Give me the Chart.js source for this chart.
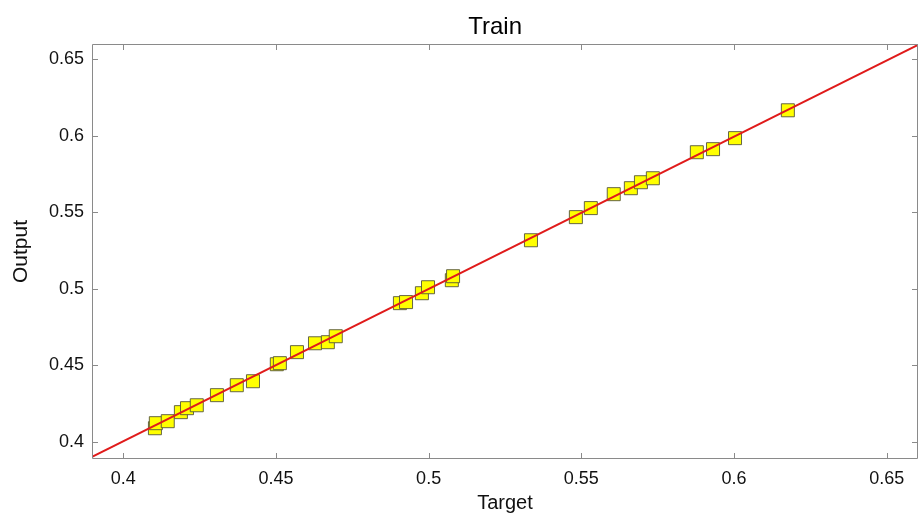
<!DOCTYPE html>
<html>
<head>
<meta charset="utf-8">
<script src="https://cdn.jsdelivr.net/npm/chart.js@4.4.1/dist/chart.umd.min.js"></script>
<style>
html,body{margin:0;padding:0;background:#fff;}
#wrap{width:921px;height:515px;}
</style>
</head>
<body>
<div id="wrap"><canvas id="c" width="921" height="515"></canvas></div>
<script>
// ---- data ----
const targetValues = [0.4104,0.4107,0.4146,0.4189,0.4209,0.4241,0.4307,0.4372,0.4425,0.4503,0.4513,0.4569,0.4628,0.4670,0.4696,0.4906,0.4926,0.4978,0.4998,0.5076,0.5080,0.5335,0.5482,0.5531,0.5606,0.5662,0.5695,0.5734,0.5878,0.5931,0.6003,0.6176];
const outputValues = [0.4090,0.4123,0.4136,0.4195,0.4221,0.4240,0.4306,0.4371,0.4397,0.4508,0.4515,0.4587,0.4645,0.4652,0.4691,0.4907,0.4914,0.4972,0.5011,0.5057,0.5083,0.5318,0.5469,0.5528,0.5619,0.5658,0.5697,0.5723,0.5893,0.5913,0.5985,0.6167];
const fitX = [0.3898, 0.6602];
const fitY = [0.3903, 0.6594];
const xLimits = [0.3898, 0.6602];
const yLimits = [0.3889, 0.6600];
const tickValues = [0.4, 0.45, 0.5, 0.55, 0.6, 0.65];
const tickLabels = ['0.4', '0.45', '0.5', '0.55', '0.6', '0.65'];
const chartTitle = 'Train';
const xTitle = 'Target';
const yTitle = 'Output';

const pts = targetValues.map((v, i) => ({x: v, y: outputValues[i]}));
const fitPts = fitX.map((v, i) => ({x: v, y: fitY[i]}));

const FONT = '"Liberation Sans", Arial, Helvetica, sans-serif';
const AXIS_COLOR = '#8a8a8a';

const boxPlugin = {
  id: 'boxPlugin',
  afterDraw(chart) {
    const ctx = chart.ctx;
    const a = chart.chartArea;
    const xs = chart.scales.x, ys = chart.scales.y;
    ctx.save();
    ctx.strokeStyle = AXIS_COLOR;
    ctx.lineWidth = 1;
    ctx.beginPath();
    ctx.rect(Math.round(a.left) + 0.5, Math.round(a.top) + 0.5, Math.round(a.right - a.left) - 1, Math.round(a.bottom - a.top) - 1);
    const L = 6;
    tickValues.forEach(v => {
      const px = Math.round(xs.getPixelForValue(v)) + 0.5;
      ctx.moveTo(px, a.bottom); ctx.lineTo(px, a.bottom - L);
      ctx.moveTo(px, a.top); ctx.lineTo(px, a.top + L);
      const py = Math.round(ys.getPixelForValue(v)) + 0.5;
      ctx.moveTo(a.left, py); ctx.lineTo(a.left + L, py);
      ctx.moveTo(a.right, py); ctx.lineTo(a.right - L, py);
    });
    ctx.stroke();
    // title
    ctx.fillStyle = '#000';
    ctx.font = '24px ' + FONT;
    ctx.textAlign = 'center';
    ctx.textBaseline = 'alphabetic';
    ctx.fillText(chartTitle, a.left + (a.right - a.left) * 0.488, 34);
    ctx.restore();
  }
};

new Chart(document.getElementById('c'), {
  type: 'scatter',
  data: {
    datasets: [
      {
        label: 'Fit',
        data: fitPts,
        showLine: true,
        borderColor: '#e01b1b',
        borderWidth: 2,
        pointRadius: 0,
        fill: false,
        order: 0
      },
      {
        label: 'Data',
        data: pts,
        pointStyle: 'rect',
        pointRadius: 9.2,
        backgroundColor: '#ffff00',
        borderColor: 'rgba(85,85,60,0.9)',
        borderWidth: 1,
        order: 1
      }
    ]
  },
  plugins: [boxPlugin],
  options: {
    responsive: false,
    animation: false,
    devicePixelRatio: 1,
    events: [],
    layout: {autoPadding: false, padding: {top: 44, right: 3, left: 0, bottom: 0}},
    plugins: {legend: {display: false}, title: {display: false}, tooltip: {enabled: false}},
    scales: {
      x: {
        type: 'linear',
        min: xLimits[0], max: xLimits[1],
        afterBuildTicks: s => { s.ticks = tickValues.map(v => ({value: v})); },
        afterFit: s => { s.height = 56; },
        grid: {display: false, drawTicks: false},
        border: {display: false},
        ticks: {
          padding: 9,
          color: '#111',
          font: {family: FONT, size: 18},
          callback: v => tickLabels[tickValues.findIndex(t => Math.abs(t - v) < 1e-9)]
        },
        title: {display: true, text: xTitle, color: '#111', font: {family: FONT, size: 20}, padding: {top: 0, bottom: 0}}
      },
      y: {
        type: 'linear',
        min: yLimits[0], max: yLimits[1],
        afterBuildTicks: s => { s.ticks = tickValues.map(v => ({value: v})); },
        afterFit: s => { s.width = 92; },
        grid: {display: false, drawTicks: false},
        border: {display: false},
        ticks: {
          padding: 8,
          color: '#111',
          font: {family: FONT, size: 18},
          callback: v => tickLabels[tickValues.findIndex(t => Math.abs(t - v) < 1e-9)]
        },
        title: {display: true, text: yTitle, color: '#111', font: {family: FONT, size: 21}, padding: {top: 9, bottom: 0}}
      }
    }
  }
});
</script>
</body>
</html>
